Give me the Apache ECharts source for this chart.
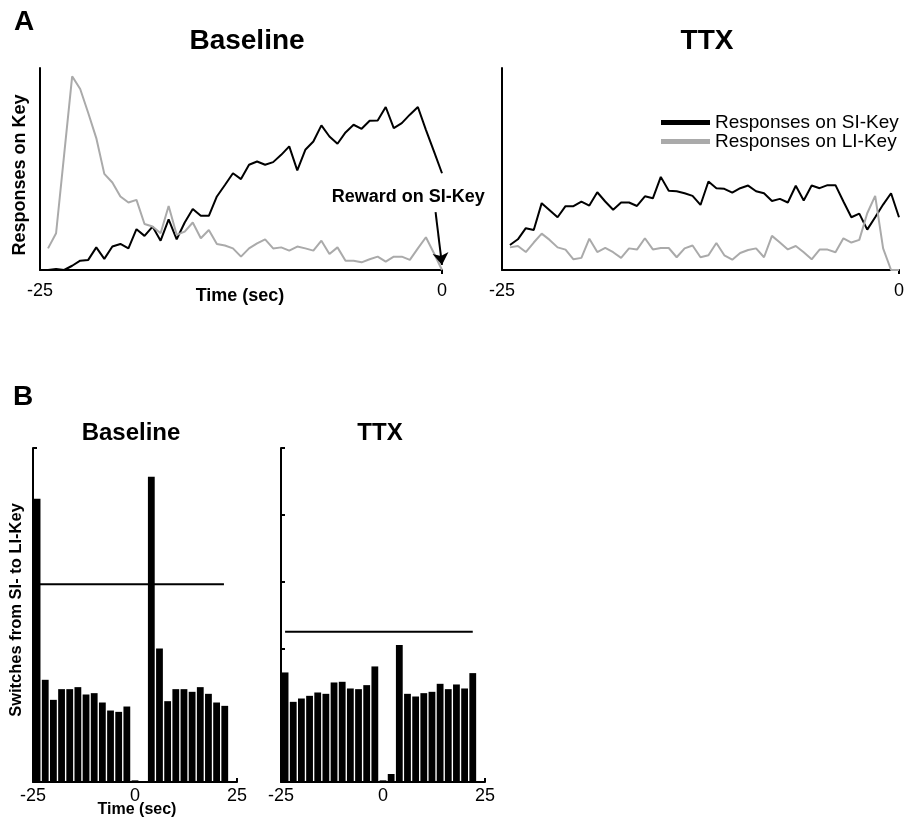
<!DOCTYPE html>
<html><head><meta charset="utf-8">
<script src="https://cdn.jsdelivr.net/npm/echarts@6/dist/echarts.min.js"></script>
<style>html,body{margin:0;padding:0;background:#fff}#c{width:907px;height:821px}</style>
</head><body><div id="c"></div>
<script>
// ---- Panel A: responses per 0.5 s bin, -25 s .. 0 s (bin end times)
const timeA = [-24.5,-24,-23.5,-23,-22.5,-22,-21.5,-21,-20.5,-20,-19.5,-19,-18.5,-18,-17.5,-17,-16.5,-16,-15.5,-15,
  -14.5,-14,-13.5,-13,-12.5,-12,-11.5,-11,-10.5,-10,-9.5,-9,-8.5,-8,-7.5,-7,-6.5,-6,-5.5,-5,
  -4.5,-4,-3.5,-3,-2.5,-2,-1.5,-1,-0.5,0];
const baseSI = [0,0.5,0,2.1,4.6,5,11.2,5.5,11.6,12.9,10.7,20.2,16.9,21.5,14.5,25.1,15.2,23.5,30.2,26.8,
  26.8,36.4,42.1,47.9,45,52.1,53.7,52.1,53.4,57,61.2,49.3,59.5,63.6,71.6,66.1,62.5,68.1,71.9,69.9,
  73.9,74,80.7,70.2,72.7,76.9,80.7,69.4,58.7,47.9];
const baseLI = [10.7,18.2,57,95.9,89.6,77.7,65.3,47.6,43.3,36.4,33.4,34.7,22.8,21.5,18.2,31.7,17.4,19,23.5,15.7,
  19.8,12.9,12.1,10.7,6.6,10.7,13.2,15.2,10.7,11.2,9.6,11.6,10.7,9.6,14.5,7.9,11.2,4.6,4.6,3.8,
  5.3,6.6,4.1,6.6,6.6,5,10.7,16.2,8.3,0];
const ttxSI = [12.4,15.2,20.7,19.8,33.1,29.6,26.1,31.6,31.6,33.9,31.9,38.5,33.9,29.8,33.4,33.4,31.7,36.5,35.5,46.1,
  39.2,39,38,36.7,32.2,43.8,40.5,40.2,38.3,40.5,41.8,39,38,34.2,35.2,33.4,41.7,34.4,41.8,40.5,
  42,42,33.9,26.1,27.9,20,26.1,32.4,38,26.1];
const ttxLI = [11.2,11.9,8.9,13.6,18,14.9,11.2,10.1,5.3,6,15.5,8.9,10.9,8.8,6,10.7,10.1,15.7,10.2,10.9,
  10.9,6.3,10.7,12.1,6.3,7.3,13.4,7.3,5.1,8.4,9.9,10.7,6.3,16.9,13.6,10.2,11.9,8.8,5.3,10.1,
  10.1,8.8,15.7,13.6,14.9,28.1,36.7,10.7,0,0];
const seriesNames = ['Responses on SI-Key','Responses on LI-Key'];
const xTicksA = [-25, 0];

// ---- Panel B: switches per 2 s bin (bin centres)
const binB = [-24,-22,-20,-18,-16,-14,-12,-10,-8,-6,-4,-2,0,2,4,6,8,10,12,14,16,18,20,22];
const baseSwitch = [4.24,1.53,1.23,1.39,1.39,1.42,1.31,1.33,1.19,1.07,1.05,1.13,0.025,0,4.57,2.0,1.21,1.39,1.39,1.35,1.42,1.32,1.19,1.14];
const ttxSwitch = [1.64,1.20,1.25,1.29,1.34,1.32,1.49,1.50,1.40,1.39,1.45,1.73,0.025,0.12,2.05,1.32,1.28,1.33,1.35,1.47,1.39,1.46,1.40,1.63];
const baseThreshold = 2.96;
const ttxThreshold = 2.25;
const baseThrSpan = [-24.5, 21.8];
const ttxThrSpan = [-24, 22];
const xTicksB = [-25, 0, 25];

// ---- annotation (data coordinates of panel A baseline)
const rewardArrowFrom = [-0.4, 28.7];
const rewardArrowTo = [0, 2.5];
const rewardLabelAt = [-2.1, 36.1];

const FF = '"Liberation Sans", Arial, Helvetica, sans-serif';
const BLACK = '#000', GREY = '#aaaaaa';
const pair = (xs, ys) => xs.map((x, i) => [x, ys[i]]);

const axisLine = {show: true, onZero: false, lineStyle: {color: BLACK, width: 2}};
function xA(gi) {
  return {type: 'value', gridIndex: gi, min: xTicksA[0], max: xTicksA[1], interval: xTicksA[1] - xTicksA[0],
    axisLine, splitLine: {show: false},
    axisTick: {show: true, length: 4, customValues: [xTicksA[1]], lineStyle: {color: BLACK, width: 2}},
    axisLabel: {color: BLACK, fontSize: 18, fontFamily: FF, margin: 12}};
}
function yA(gi) {
  return {type: 'value', gridIndex: gi, min: 0, max: 100, axisLine, axisTick: {show: false},
    axisLabel: {show: false}, splitLine: {show: false}};
}
function xB(gi) {
  return {type: 'value', gridIndex: gi, min: xTicksB[0], max: xTicksB[2], interval: 25,
    axisLine, splitLine: {show: false},
    axisTick: {show: true, inside: true, length: 4, customValues: [xTicksB[2]], lineStyle: {color: BLACK, width: 2}},
    axisLabel: {color: BLACK, fontSize: 18, fontFamily: FF, margin: 5}};
}
function yB(gi, ticks) {
  const t = {show: true, inside: true, length: 4, lineStyle: {color: BLACK, width: 2}};
  if (ticks) t.customValues = ticks;
  return {type: 'value', gridIndex: gi, min: 0, max: 5, interval: 1, axisLine, axisTick: t,
    axisLabel: {show: false}, splitLine: {show: false}};
}
function lineS(name, gi, ys, color, extra) {
  return Object.assign({type: 'line', name, xAxisIndex: gi, yAxisIndex: gi, data: pair(timeA, ys),
    symbol: 'none', color, lineStyle: {color, width: 2}, itemStyle: {color}, silent: true}, extra || {});
}
function barS(gi, ys) {
  return {type: 'bar', name: 'switches' + gi, xAxisIndex: gi, yAxisIndex: gi, data: pair(binB, ys),
    barWidth: 6.8, itemStyle: {color: BLACK}, silent: true};
}
function thrS(gi, span, v) {
  return {type: 'line', name: 'thr' + gi, xAxisIndex: gi, yAxisIndex: gi, data: [[span[0], v], [span[1], v]],
    symbol: 'none', lineStyle: {color: BLACK, width: 2}, silent: true, z: 5};
}
function txt(text, x, y, size, bold, rot) {
  return {type: 'text', x, y, rotation: rot || 0, silent: true,
    style: {text, fill: BLACK, font: (bold ? 'bold ' : '') + size + 'px ' + FF, align: 'center', verticalAlign: 'middle'}};
}

const chart = echarts.init(document.getElementById('c'), null, {renderer: 'canvas'});
chart.setOption({
  animation: false,
  backgroundColor: '#fff',
  grid: [
    {left: 40, top: 68, width: 402, height: 202},
    {left: 502, top: 68, width: 403, height: 202},
    {left: 33, top: 448, width: 204, height: 334},
    {left: 281, top: 448, width: 204, height: 334}
  ],
  xAxis: [xA(0), xA(1), xB(2), xB(3)],
  yAxis: [yA(0), yA(1), yB(2, [5]), yB(3)],
  legend: {
    data: seriesNames, orient: 'vertical', left: 656, top: 108, icon: 'rect',
    itemWidth: 49, itemHeight: 5, itemGap: 0, selectedMode: false,
    textStyle: {color: BLACK, fontSize: 19, fontFamily: FF, lineHeight: 19}
  },
  series: [
    lineS(seriesNames[0], 0, baseSI, BLACK, {
      markLine: {silent: true, symbol: ['none', 'arrow'], symbolSize: 12, label: {show: false},
        lineStyle: {color: BLACK, width: 2, type: 'solid'},
        data: [[{coord: rewardArrowFrom}, {coord: rewardArrowTo}]]},
      markPoint: {silent: true, symbol: 'circle', symbolSize: 1, itemStyle: {color: 'rgba(0,0,0,0)'},
        label: {show: true, position: 'inside', formatter: 'Reward on SI-Key', color: BLACK,
          fontWeight: 'bold', fontSize: 18, fontFamily: FF},
        data: [{coord: rewardLabelAt}]}
    }),
    lineS(seriesNames[1], 0, baseLI, GREY),
    lineS(seriesNames[0], 1, ttxSI, BLACK),
    lineS(seriesNames[1], 1, ttxLI, GREY),
    barS(2, baseSwitch),
    thrS(2, baseThrSpan, baseThreshold),
    barS(3, ttxSwitch),
    thrS(3, ttxThrSpan, ttxThreshold)
  ],
  graphic: [
    txt('A', 24, 22, 28, true),
    txt('Baseline', 247, 41, 28, true),
    txt('TTX', 707, 41, 28, true),
    txt('Responses on Key', 20, 175, 18, true, Math.PI / 2),
    txt('Time (sec)', 240, 296, 18, true),
    txt('B', 23, 397, 28, true),
    txt('Baseline', 131, 433, 24, true),
    txt('TTX', 380, 433, 24, true),
    txt('Switches from SI- to LI-Key', 16, 610, 16.5, true, Math.PI / 2),
    txt('Time (sec)', 137, 810, 16, true)
  ]
});
</script></body></html>
